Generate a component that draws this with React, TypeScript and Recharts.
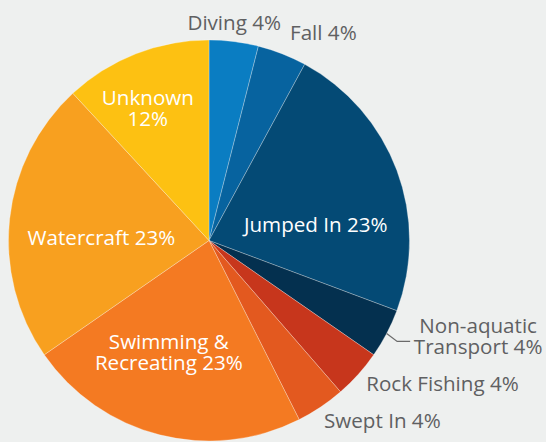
import React from 'react';
import { PieChart, Pie, Cell } from 'recharts';

// causes, clockwise from 12 o'clock
const categories = [
  'Diving',
  'Fall',
  'Jumped In',
  'Non-aquatic Transport',
  'Rock Fishing',
  'Swept In',
  'Swimming & Recreating',
  'Watercraft',
  'Unknown',
];
const percents = [4, 4, 23, 4, 4, 4, 23, 23, 12];
const colors = [
  '#0a7dc2',
  '#07639f',
  '#044a75',
  '#04304f',
  '#c7361c',
  '#e3591f',
  '#f47a22',
  '#f8a01f',
  '#fdc112',
];
// how each label text is broken into lines
const labelLines = [
  ['Diving 4%'],
  ['Fall 4%'],
  ['Jumped In 23%'],
  ['Non-aquatic', 'Transport 4%'],
  ['Rock Fishing 4%'],
  ['Swept In 4%'],
  ['Swimming &', 'Recreating 23%'],
  ['Watercraft 23%'],
  ['Unknown', '12%'],
];

const data = categories.map((name, i) => ({ name, value: percents[i] }));

const RADIAN = Math.PI / 180;
const FONT = '"Open Sans", sans-serif';
const GREY = '#5f6062';
const FS = 20.6;
const LH = 20.8;

// label placement: radius factor from centre, nudges, anchor, inside/outside
const layout: Record<string, { rf: number; dx: number; dy: number; anchor: string; inside: boolean; leader?: boolean }> = {
  Diving: { rf: 1.095, dx: -2, dy: 0, anchor: 'middle', inside: false },
  Fall: { rf: 1.095, dx: 1, dy: -3, anchor: 'start', inside: false },
  'Jumped In': { rf: 0.55, dx: 3.5, dy: 22.5, anchor: 'middle', inside: true },
  'Non-aquatic Transport': { rf: 1, dx: 0, dy: 0, anchor: 'middle', inside: false, leader: true },
  'Rock Fishing': { rf: 1.07, dx: -2.5, dy: 0.5, anchor: 'start', inside: false },
  'Swept In': { rf: 1.07, dx: -4.5, dy: 2, anchor: 'start', inside: false },
  'Swimming & Recreating': { rf: 0.55, dx: -13, dy: 5, anchor: 'middle', inside: true },
  Watercraft: { rf: 0.55, dx: 2, dy: 9.5, anchor: 'middle', inside: true },
  Unknown: { rf: 0.72, dx: -8.5, dy: 2.5, anchor: 'middle', inside: true },
};

const renderLabel = (props: any) => {
  const { cx, cy, midAngle, outerRadius, index } = props;
  const name = categories[index];
  const l = layout[name];
  const lines = labelLines[index];
  const r = outerRadius * l.rf;
  let x = cx + r * Math.cos(-midAngle * RADIAN) + l.dx;
  let y = cy + r * Math.sin(-midAngle * RADIAN) + l.dy;
  let leader = null;
  if (l.leader) {
    const ex = x + 10.5;
    const ey = y + 8;
    leader = (
      <path
        d={`M${x},${y} L${ex},${ey} L${ex + 13},${ey}`}
        stroke="#6a6a6a"
        strokeWidth={1.2}
        fill="none"
      />
    );
    x = ex + 81;
    y = ey - 5.5;
  }
  const fill = l.inside ? '#ffffff' : GREY;
  const first = 7.2 - ((lines.length - 1) / 2) * LH;
  return (
    <g key={`lbl-${index}`}>
      {leader}
      <text x={x} y={y} textAnchor={l.anchor as any} fill={fill} fontFamily={FONT} fontSize={FS}>
        {lines.map((t, i) => (
          <tspan key={i} x={x} dy={i === 0 ? first : LH}>
            {t}
          </tspan>
        ))}
      </text>
    </g>
  );
};

export default function App() {
  return (
    <div
      style={{
        position: 'fixed',
        left: 0,
        top: 0,
        width: 546,
        height: 442,
        background: '#eef0ef',
      }}
    >
      <PieChart width={546} height={442} margin={{ top: 0, right: 0, bottom: 0, left: 0 }}>
        <Pie
          data={data}
          dataKey="value"
          nameKey="name"
          cx={209}
          cy={240.5}
          outerRadius={200.5}
          startAngle={90}
          endAngle={-270}
          stroke="rgba(255,255,255,0.35)"
          strokeWidth={0.8}
          label={renderLabel}
          labelLine={false}
          isAnimationActive={false}
        >
          {data.map((d, i) => (
            <Cell key={d.name} fill={colors[i]} />
          ))}
        </Pie>
      </PieChart>
    </div>
  );
}
